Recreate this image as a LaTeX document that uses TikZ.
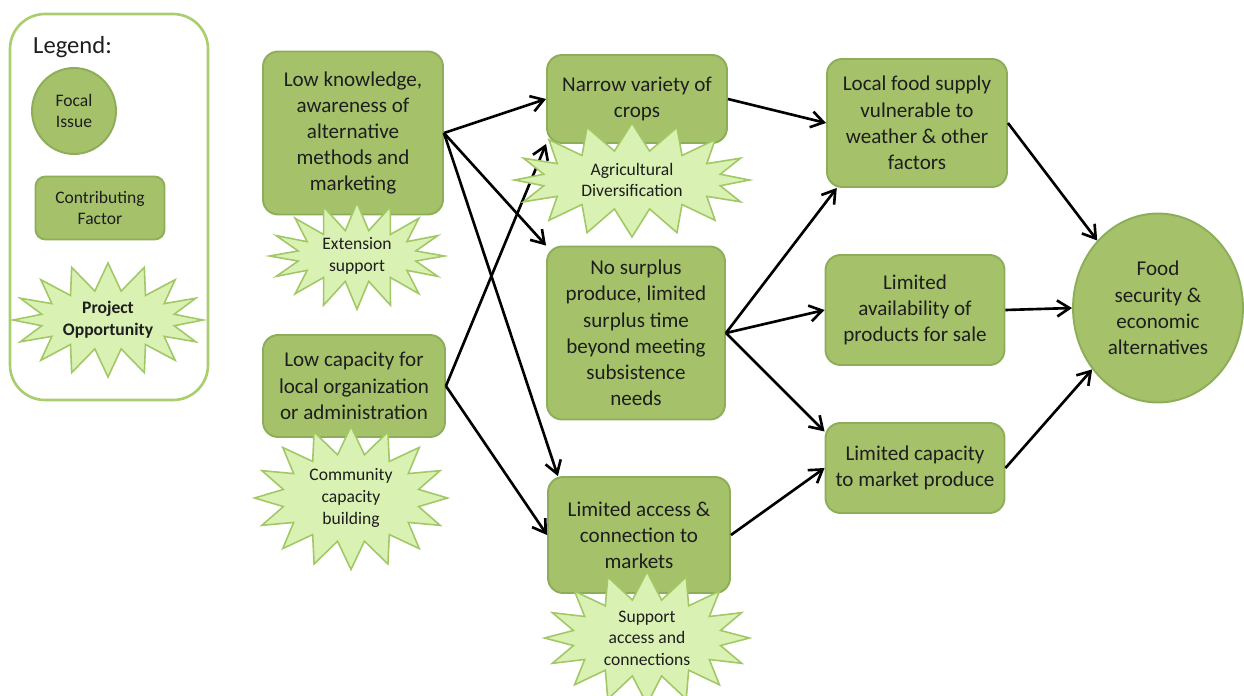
\documentclass[tikz,border=0pt]{standalone}
\usepackage{fontspec}
\setmainfont{Carlito}
\usetikzlibrary{
  arrows.meta,
  shapes.geometric,
  shapes.symbols,
  positioning
}
\definecolor{fsFill}{HTML}{A5C26A}
\definecolor{fsEdge}{HTML}{8CAE58}
\definecolor{fsStar}{HTML}{D9F1B2}
\definecolor{fsStarEdge}{HTML}{A2C866}
\definecolor{fsFrame}{HTML}{AACD6E}
\definecolor{fsText}{HTML}{1E1E1E}
\tikzset{
  fsnode/.style={
    draw=fsEdge, line width=1.1pt, fill=fsFill, align=center,
    text=fsText, font=\fontsize{12}{14.9}\selectfont, inner sep=1mm
  },
  factor/.style={fsnode, rectangle, rounded corners=3mm},
  focal/.style={fsnode, ellipse},
  opport/.style={
    starburst, random starburst=0, starburst points=16,
    starburst point height=0.55cm, draw=fsStarEdge, line width=0.9pt,
    fill=fsStar, align=center, text=fsText,
    font=\fontsize{10}{12.3}\selectfont, inner sep=0pt
  },
  legendframe/.style={draw=fsFrame, line width=1.5pt, rounded corners=7mm},
  cause/.style={-{Straight Barb[length=2.5mm, width=3.2mm]}, line width=1.5pt, black}
}

\begin{document}
\begin{tikzpicture}[x=0.02cm, y=-0.02cm]
  \useasboundingbox (0,0) rectangle (1244,696);

  % legend
  \draw[legendframe] (10,14) rectangle (208,400);
  \node[anchor=west, font=\fontsize{14}{16}\selectfont, text=fsText] (legtitle) at (27,47) {Legend:};
  \node[focal, minimum width=1.68cm, minimum height=1.72cm, font=\fontsize{10}{12.3}\selectfont] (legfocal) at (74,111) {Focal\\Issue};
  \node[factor, minimum width=2.58cm, minimum height=1.26cm, rounded corners=2mm, font=\fontsize{10}{12.3}\selectfont] (legfactor) at (100,208) {Contributing\\Factor};
  \node[opport, minimum width=3.8cm, minimum height=2.28cm, font=\fontsize{10}{12.3}\selectfont\bfseries] (legopp) at (108,320) {Project\\Opportunity};

  % causes
  \node[factor, minimum width=3.6cm, minimum height=3.26cm] (know) at (353,133) {Low knowledge,\\awareness of\\alternative\\methods and\\marketing};
  \node[factor, minimum width=3.64cm, minimum height=2.04cm] (admin) at (354,386) {Low capacity for\\local organization\\or administration};

  % middle column
  \node[factor, minimum width=3.6cm, minimum height=1.76cm] (crops) at (637,99) {Narrow variety of\\crops};
  \node[factor, minimum width=3.56cm, minimum height=3.46cm] (surplus) at (636,333) {No surplus\\produce, limited\\surplus time\\beyond meeting\\subsistence\\needs};
  \node[factor, minimum width=3.64cm, minimum height=2.32cm] (access) at (639,535) {Limited access \&\\connection to\\markets};

  % effects
  \node[factor, minimum width=3.6cm, minimum height=2.56cm] (vulner) at (917,123) {Local food supply\\vulnerable to\\weather \& other\\factors};
  \node[factor, minimum width=3.58cm, minimum height=2.2cm] (avail) at (915,310) {Limited\\availability of\\products for sale};
  \node[factor, minimum width=3.58cm, minimum height=1.8cm] (market) at (915,468) {Limited capacity\\to market produce};
  \node[focal, minimum width=3.4cm, minimum height=3.78cm] (food) at (1158,308) {Food\\security \&\\economic\\alternatives};

  % connectors
  \draw[cause] (know.east) -- (crops.west);
  \draw[cause] (know.east) -- (surplus.north west);
  \draw[cause] (know.east) -- (access.144);
  \draw[cause] (admin.east) -- (crops.south west);
  \draw[cause] (admin.east) -- (access.west);
  \draw[cause] (crops.east) -- (vulner.west);
  \draw[cause] (surplus.east) -- (vulner.219);
  \draw[cause] (surplus.east) -- (avail.west);
  \draw[cause] (surplus.east) -- (market.158);
  \draw[cause] (access.east) -- (market.west);
  \draw[cause] (vulner.east) -- (food.132);
  \draw[cause] (avail.east) -- (food.west);
  \draw[cause] (market.east) -- (food.223);

  % opportunities, on top of boxes and arrows
  \node[opport, minimum width=3.5cm, minimum height=1.9cm] (extsup) at (357,256) {Extension\\support};
  \node[opport, minimum width=3.86cm, minimum height=2.86cm] (commcap) at (351,498) {Community\\capacity\\building};
  \node[opport, minimum width=4.7cm, minimum height=2.28cm] (agridiv) at (632,180) {Agricultural\\Diversification};
  \node[opport, minimum width=4.1cm, minimum height=2.22cm] (suppacc) at (647,638) {Support\\access and\\connections};
\end{tikzpicture}
\end{document}
